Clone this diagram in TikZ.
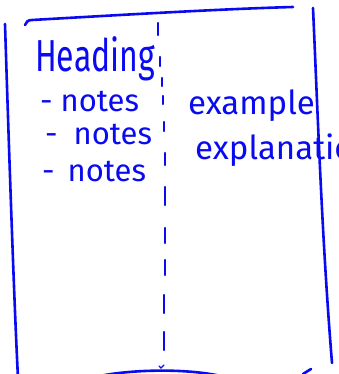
\documentclass[tikz,border=0pt]{standalone}
\usepackage{fontspec}
\usepackage{graphicx}
\setmainfont{Fira Sans}
\definecolor{pen}{RGB}{10,10,240}
\tikzset{
  ink/.style={draw=pen, line width=2.6pt, line cap=round, line join=round},
  dashink/.style={draw=pen, line width=2.2pt, line cap=round},
  hand/.style={text=pen, inner sep=0pt, anchor=base west},
}
\begin{document}
\begin{tikzpicture}[x=1pt,y=-1pt]
\useasboundingbox (0,0) rectangle (339,374);
% frame
\draw[ink] (5,24) .. controls (9,150) and (14,300) .. (18,378);
\draw[ink] (25,25) .. controls (26,22) and (28,20) .. (32,20) .. controls (120,15) and (220,9) .. (293,7);
\draw[ink] (313,8) .. controls (318,120) and (322,240) .. (332,363);
\draw[ink] (95,377) .. controls (130,369) and (190,368) .. (225,377);
\draw[ink] (303,374) -- (311,369);
% dashed divider
\foreach \x/\a/\b in {158/23/35,160/57/66,162/78/86,163/96/104,164/122/131,165/153/165,165/187/205,165/228/243,165/260/275,164/295/313,164/332/350}
  \draw[dashink] (\x,\a) -- (\x,\b);
\draw[dashink, line width=1.4pt] (159,366) -- (161,368) -- (164,365);
% texts
\node[hand] (head) at (35,72) {\scalebox{1}[1.4]{\fontsize{32}{32}\selectfont Heading}};
\node[hand] (n1) at (40,112) {\fontsize{31}{31}\selectfont -\hspace{8pt}notes};
\node[hand] (n2) at (45,144) {\fontsize{31}{31}\selectfont -\hspace{16pt}notes};
\node[hand] (n3) at (42,181) {\fontsize{31}{31}\selectfont -\hspace{13pt}notes};
\node[hand] (ex) at (188,115) {\fontsize{33}{33}\selectfont example};
\node[hand] (expl) at (195,160) {\fontsize{33}{33}\selectfont explanation};
\end{tikzpicture}
\end{document}
